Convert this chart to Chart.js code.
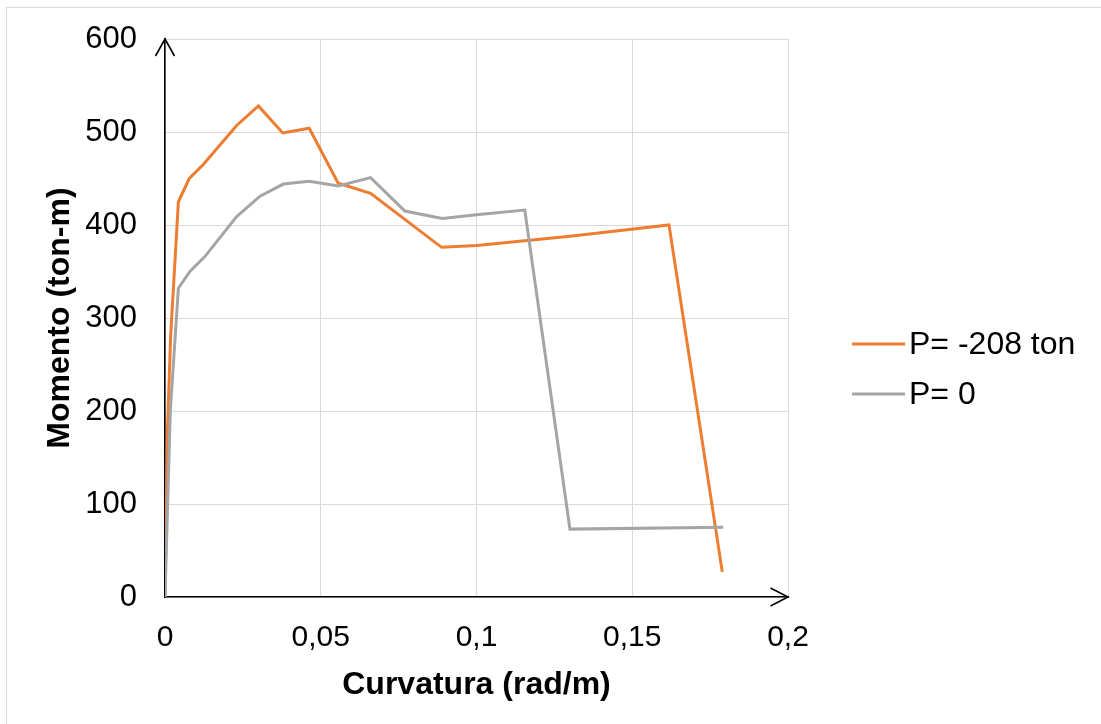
<!DOCTYPE html>
<html>
<head>
<meta charset="utf-8">
<script src="https://cdn.jsdelivr.net/npm/chart.js@4/dist/chart.umd.min.js"></script>
<style>
  html, body { margin: 0; padding: 0; background: #fff; overflow: hidden; }
  #wrap { position: relative; width: 1101px; height: 724px; }
  #frame { position: absolute; left: 6px; top: 7px; width: 1200px; height: 800px; border: 1px solid #d9d9d9; box-sizing: border-box; pointer-events: none; }
  canvas { position: absolute; left: 0; top: 0; }
</style>
</head>
<body>
<div id="wrap">
  <div id="frame"></div>
  <canvas id="c" width="1101" height="724"></canvas>
</div>
<script>
// Moment–curvature curves for two axial loads
const seriesNames = ['P= -208 ton', 'P= 0'];

// P = -208 ton
const curvP208 = [0, 0.0008, 0.0018, 0.0043, 0.0078, 0.0123, 0.023, 0.030, 0.0378, 0.0463, 0.0556, 0.066, 0.0888, 0.1001, 0.13, 0.1618, 0.1789];
const momP208  = [0, 180, 280, 425, 450, 465, 507, 528, 499, 504, 445, 434, 376, 378, 388, 400, 27];

// P = 0
const curvP0 = [0, 0.0017, 0.0043, 0.008, 0.0128, 0.023, 0.0305, 0.038, 0.0463, 0.0556, 0.066, 0.077, 0.089, 0.1, 0.1155, 0.130, 0.1792];
const momP0  = [0, 200, 332, 350, 366, 409, 431, 444, 447, 442, 451, 415, 407, 411, 416, 73, 75];

const xTickLabels = ['0', '0,05', '0,1', '0,15', '0,2'];
const yTickLabels = ['0', '100', '200', '300', '400', '500', '600'];

const FONT = "'Liberation Sans', Arial, sans-serif";
const ORANGE = '#ED7D31';
const GREY = '#A5A5A5';

const toPoints = (xs, ys) => xs.map((x, i) => ({ x: x, y: ys[i] }));

// open arrowheads at the ends of both axes
const axisArrows = {
  id: 'axisArrows',
  afterDraw(chart) {
    const { ctx, scales: { x, y } } = chart;
    const x0 = x.getPixelForValue(0), xEnd = x.getPixelForValue(0.2);
    const y0 = y.getPixelForValue(0), yEnd = y.getPixelForValue(600);
    ctx.save();
    ctx.strokeStyle = '#000';
    ctx.lineWidth = 1.6;
    ctx.lineJoin = 'miter';
    ctx.beginPath();
    ctx.moveTo(x0 - 9.5, yEnd + 17);
    ctx.lineTo(x0, yEnd);
    ctx.lineTo(x0 + 9.5, yEnd + 17);
    ctx.moveTo(xEnd - 17.5, y0 - 9);
    ctx.lineTo(xEnd, y0);
    ctx.lineTo(xEnd - 17.5, y0 + 9);
    ctx.stroke();
    ctx.restore();
  }
};

// legend on the right, drawn from the dataset labels and colours
const sideLegend = {
  id: 'sideLegend',
  afterDraw(chart) {
    const { ctx } = chart;
    const rows = [344, 394];
    const order = [0, 1];
    ctx.save();
    ctx.font = "32px " + FONT;
    ctx.textBaseline = 'middle';
    ctx.textAlign = 'left';
    order.forEach((di, r) => {
      const ds = chart.data.datasets[di];
      ctx.strokeStyle = ds.borderColor;
      ctx.lineWidth = 3;
      ctx.beginPath();
      ctx.moveTo(852, rows[r]);
      ctx.lineTo(905, rows[r]);
      ctx.stroke();
      ctx.fillStyle = '#000';
      ctx.fillText(ds.label, 909, rows[r] + 1);
    });
    ctx.restore();
  }
};

new Chart(document.getElementById('c'), {
  type: 'scatter',
  data: {
    datasets: [
      {
        label: seriesNames[0],
        data: toPoints(curvP208, momP208),
        borderColor: ORANGE,
        backgroundColor: ORANGE,
        borderWidth: 3,
        showLine: true,
        pointRadius: 0,
        tension: 0,
        order: 1
      },
      {
        label: seriesNames[1],
        data: toPoints(curvP0, momP0),
        borderColor: GREY,
        backgroundColor: GREY,
        borderWidth: 3,
        showLine: true,
        pointRadius: 0,
        tension: 0,
        order: 0
      }
    ]
  },
  options: {
    responsive: false,
    animation: false,
    devicePixelRatio: 1,
    layout: { padding: { left: 0, top: 39, right: 313, bottom: 0 } },
    plugins: {
      legend: { display: false },
      tooltip: { enabled: false }
    },
    scales: {
      x: {
        type: 'linear',
        min: 0,
        max: 0.2,
        afterFit(scale) { scale.height = 127; },
        afterBuildTicks(scale) {
          scale.ticks = xTickLabels.map((_, i) => ({ value: i * 0.05 }));
        },
        ticks: {
          color: '#000',
          font: { family: FONT, size: 30 },
          padding: 23,
          maxRotation: 0,
          autoSkip: false,
          callback: (v, i) => xTickLabels[i]
        },
        grid: { color: '#d9d9d9', lineWidth: 1, drawTicks: false },
        border: { color: '#000', width: 1.6 },
        title: {
          display: true,
          text: 'Curvatura (rad/m)',
          color: '#000',
          font: { family: FONT, size: 32, weight: 'bold' },
          padding: { top: 0, bottom: 20 }
        }
      },
      y: {
        type: 'linear',
        min: 0,
        max: 600,
        afterFit(scale) { scale.width = 165; },
        afterBuildTicks(scale) {
          scale.ticks = yTickLabels.map((_, i) => ({ value: i * 100 }));
        },
        ticks: {
          color: '#000',
          font: { family: FONT, size: 31, lineHeight: 0.7 },
          padding: 28,
          autoSkip: false,
          callback: (v, i) => yTickLabels[i]
        },
        grid: { color: '#d9d9d9', lineWidth: 1, drawTicks: false },
        border: { color: '#000', width: 1.6 },
        title: {
          display: true,
          text: 'Momento (ton-m)',
          color: '#000',
          font: { family: FONT, size: 32, weight: 'bold' },
          padding: { top: 41, bottom: 0 }
        }
      }
    }
  },
  plugins: [axisArrows, sideLegend]
});
</script>
</body>
</html>
